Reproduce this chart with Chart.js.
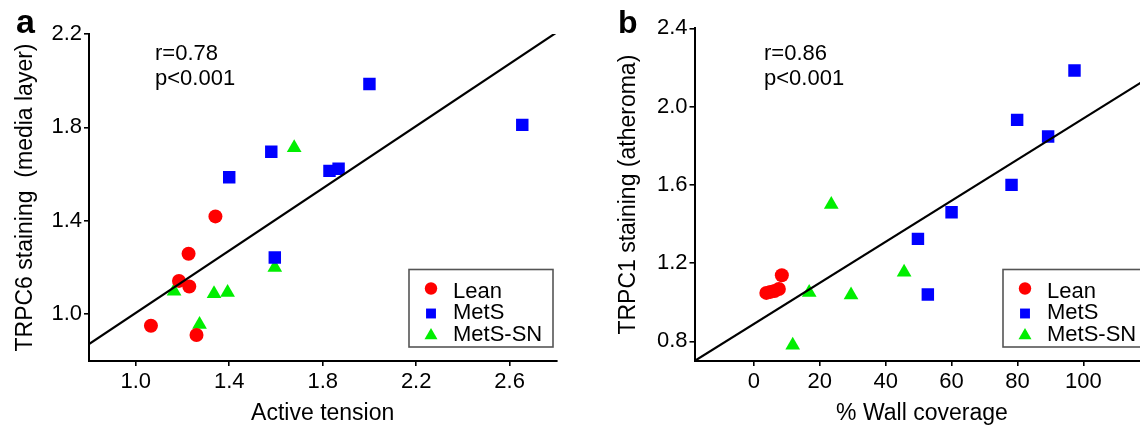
<!DOCTYPE html>
<html>
<head>
<meta charset="utf-8">
<script src="https://cdn.jsdelivr.net/npm/chart.js@4/dist/chart.umd.min.js"></script>
<style>
  html, body { margin: 0; padding: 0; overflow: hidden; background: #fff; }
  body { width: 1140px; height: 427px; position: relative; }
  .panel { position: absolute; top: 0; }
</style>
</head>
<body>
<div class="panel" style="left:0;width:570px;height:427px"><canvas id="chartA" width="570" height="427"></canvas></div>
<div class="panel" style="left:570px;width:590px;height:427px"><canvas id="chartB" width="590" height="427"></canvas></div>
<script>
// groups shown in both panels
const groups = ["Lean", "MetS", "MetS-SN"];

// --- panel a: active tension vs TRPC6 staining ---
const tensionLean = [1.065, 1.26, 1.341, 1.226, 1.185, 1.229];
const trpc6Lean = [0.951, 0.911, 1.419, 1.259, 1.143, 1.119];
const tensionMets = [2.0, 2.654, 1.58, 1.40, 1.829, 1.868, 1.595];
const trpc6Mets = [1.986, 1.811, 1.696, 1.587, 1.614, 1.623, 1.243];
const tensionSn = [1.678, 1.595, 1.164, 1.335, 1.393, 1.273];
const trpc6Sn = [1.713, 1.20, 1.099, 1.088, 1.093, 0.956];
const fitAx = [0.8, 2.8];
const fitAy = [0.872, 2.206];
const ticksAx = [1.0, 1.4, 1.8, 2.2, 2.6];
const ticksAy = [1.0, 1.4, 1.8, 2.2];

// --- panel b: % wall coverage vs TRPC1 staining ---
const coverLean = [3.8, 5.0, 6.3, 7.6, 8.5];
const trpc1Lean = [1.048, 1.053, 1.058, 1.068, 1.138];
const coverMets = [97.3, 79.9, 89.3, 78.2, 60.0, 49.8, 52.8];
const trpc1Mets = [2.184, 1.932, 1.847, 1.60, 1.46, 1.324, 1.04];
const coverSn = [23.5, 45.6, 16.8, 29.5, 11.8];
const trpc1Sn = [1.50, 1.153, 1.05, 1.037, 0.78];
const fitBx = [-18, 120];
const fitBy = [0.70, 2.149];
const ticksBx = [0, 20, 40, 60, 80, 100];
const ticksBy = [0.8, 1.2, 1.6, 2.0, 2.4];

const FONT = "'Liberation Sans', Arial, Helvetica, sans-serif";
const RED = "#ff0000", BLUE = "#0000ff", GREEN = "#00ee00";
Chart.defaults.font.family = FONT;
Chart.defaults.color = "#000";

function pairs(xs, ys) {
  return xs.map((x, i) => ({ x: x, y: ys[i] }));
}

function marker(ctx, style, x, y, r) {
  ctx.beginPath();
  if (style === "circle") {
    ctx.arc(x, y, r, 0, Math.PI * 2);
  } else if (style === "rect") {
    const s = r * Math.SQRT1_2;
    ctx.rect(x - s, y - s, 2 * s, 2 * s);
  } else {
    ctx.moveTo(x, y - r);
    ctx.lineTo(x + r * 0.866, y + r * 0.5);
    ctx.lineTo(x - r * 0.866, y + r * 0.5);
    ctx.closePath();
  }
  ctx.fill();
}

// panel letter, r / p text and the boxed legend
function decorPlugin(p) {
  return {
    id: "decor",
    afterDraw(chart) {
      const ctx = chart.ctx;
      ctx.save();
      ctx.fillStyle = "#000";
      ctx.textBaseline = "alphabetic";
      ctx.textAlign = "left";
      ctx.font = "bold " + p.letterSize + "px " + FONT;
      ctx.fillText(p.letter, p.letterX, 33);
      ctx.font = "22px " + FONT;
      p.notes.forEach((t, i) => ctx.fillText(t, p.noteX, 60 + i * 25));

      const lx = p.legendX, ly = 269.5;
      ctx.strokeStyle = "#555";
      ctx.lineWidth = 1.6;
      ctx.strokeRect(lx, ly, 144, 77.5);
      const rows = [
        { style: "circle", color: RED, r: 6.2, my: 19, ty: 28 },
        { style: "rect", color: BLUE, r: 7, my: 44, ty: 49.5 },
        { style: "triangle", color: GREEN, r: 7.5, my: 66, ty: 71.5 }
      ];
      ctx.font = "22px " + FONT;
      rows.forEach((row, i) => {
        ctx.fillStyle = row.color;
        marker(ctx, row.style, lx + 22, ly + row.my, row.r);
        ctx.fillStyle = "#000";
        ctx.fillText(groups[i], lx + 44, ly + row.ty);
      });
      ctx.restore();
    }
  };
}

function panel(id, p) {
  const tickFont = { size: 22, family: FONT };
  const titleFont = { size: 23, family: FONT };
  const grid = { display: true, drawOnChartArea: false, drawTicks: true, tickLength: 5, color: "#000", lineWidth: 1.6 };
  const border = { display: true, color: "#000", width: 2 };
  return new Chart(document.getElementById(id), {
    type: "scatter",
    data: {
      datasets: [
        { label: "fit", type: "line", data: pairs(p.fitX, p.fitY), borderColor: "#000", borderWidth: 2.2,
          pointRadius: 0, fill: false, order: 0 },
        { label: groups[0], data: pairs(p.leanX, p.leanY), pointStyle: "circle", pointRadius: 7,
          backgroundColor: RED, borderWidth: 0, order: 1 },
        { label: groups[1], data: pairs(p.metsX, p.metsY), pointStyle: "rect", pointRadius: 8.8,
          backgroundColor: BLUE, borderWidth: 0, order: 1 },
        { label: groups[2], data: pairs(p.snX, p.snY), pointStyle: "triangle", pointRadius: 8.5,
          backgroundColor: GREEN, borderWidth: 0, order: 1 }
      ]
    },
    options: {
      responsive: false,
      animation: false,
      events: [],
      layout: { padding: { left: 0, top: p.top, right: p.right, bottom: 0 } },
      plugins: { legend: { display: false }, tooltip: { enabled: false } },
      scales: {
        x: {
          type: "linear", min: p.xMin, max: p.xMax,
          afterBuildTicks: s => { s.ticks = p.xTicks.map(v => ({ value: v })); },
          afterFit: s => { s.height = 66; },
          ticks: { font: tickFont, color: "#000", padding: 3, maxRotation: 0, autoSkip: false, callback: p.xFmt },
          grid: grid, border: border,
          title: { display: true, text: p.xTitle, font: titleFont, color: "#000", padding: { top: 0, bottom: 0 } }
        },
        y: {
          type: "linear", min: p.yMin, max: p.yMax,
          afterBuildTicks: s => { s.ticks = p.yTicks.map(v => ({ value: v })); },
          afterFit: s => { s.width = p.yWidth; },
          ticks: { font: tickFont, color: "#000", padding: 2, autoSkip: false, callback: v => v.toFixed(1) },
          grid: grid, border: border,
          title: { display: true, text: p.yTitle, font: titleFont, color: "#000", padding: { top: p.yTitlePad, bottom: 0 } }
        }
      }
    },
    plugins: [decorPlugin(p)]
  });
}

panel("chartA", {
  leanX: tensionLean, leanY: trpc6Lean, metsX: tensionMets, metsY: trpc6Mets, snX: tensionSn, snY: trpc6Sn,
  fitX: fitAx, fitY: fitAy, xTicks: ticksAx, yTicks: ticksAy,
  xMin: 0.8, xMax: 2.8, yMin: 0.8, yMax: 2.2,
  xFmt: v => v.toFixed(1),
  xTitle: "Active tension", yTitle: "TRPC6 staining  (media layer)",
  top: 34, right: 13.6, yWidth: 89, yTitlePad: 11.7,
  letter: "a", letterSize: 34, letterX: 16, notes: ["r=0.78", "p<0.001"], noteX: 155, legendX: 409
});

panel("chartB", {
  leanX: coverLean, leanY: trpc1Lean, metsX: coverMets, metsY: trpc1Mets, snX: coverSn, snY: trpc1Sn,
  fitX: fitBx, fitY: fitBy, xTicks: ticksBx, yTicks: ticksBy,
  xMin: -18, xMax: 120, yMin: 0.7, yMax: 2.4,
  xFmt: v => String(v),
  xTitle: "% Wall coverage", yTitle: "TRPC1 staining (atheroma)",
  top: 28.3, right: 10.7, yWidth: 124.5, yTitlePad: 45.2,
  letter: "b", letterSize: 32, letterX: 48, notes: ["r=0.86", "p<0.001"], noteX: 194, legendX: 433
});
</script>
</body>
</html>
